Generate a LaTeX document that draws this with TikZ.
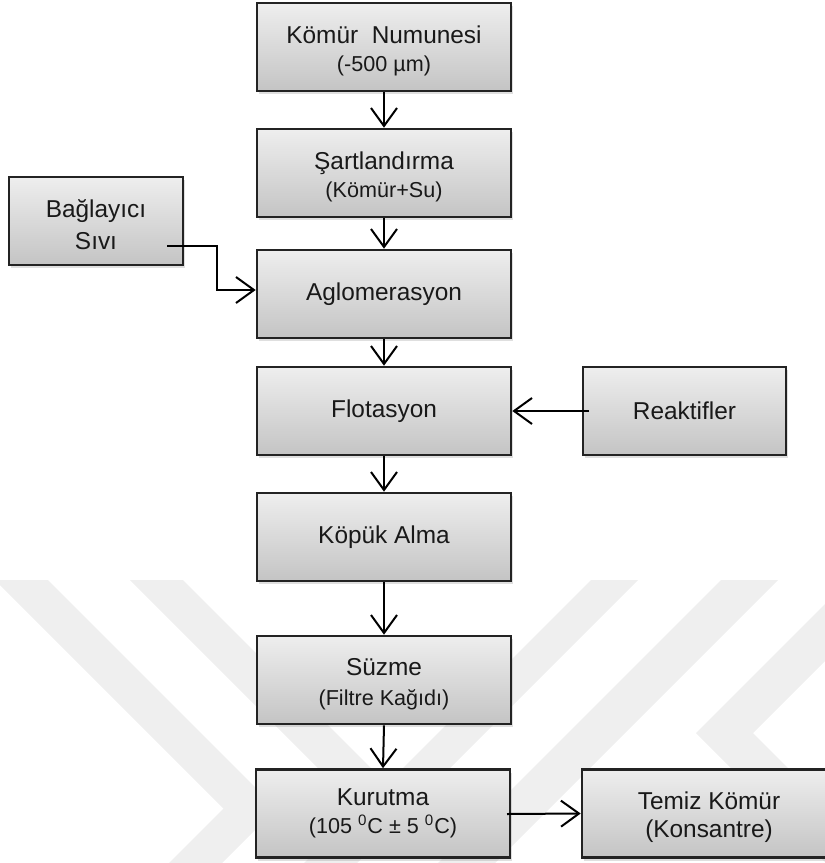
\documentclass[tikz,border=0pt]{standalone}
\usepackage{fontspec}
\setmainfont{Liberation Sans}
\usetikzlibrary{arrows.meta,shadows,calc}

\definecolor{boxtop}{RGB}{238,238,238}
\definecolor{boxbot}{RGB}{196,196,196}
\definecolor{wmark}{RGB}{239,239,239}
\definecolor{edge}{RGB}{35,35,35}
\definecolor{ink}{RGB}{25,25,25}
\newcommand{\mainsz}{\fontsize{12.2}{14}\selectfont}
\newcommand{\subsz}{\fontsize{10.8}{14}\selectfont}
% taller first line: pushes a two-line label slightly down in its box
\newcommand{\lowerstrut}{\rule{0pt}{13pt}}

\begin{document}
\begin{tikzpicture}[x=0.5pt,y=-0.5pt,
  procbox/.style={draw=edge, line width=1.3pt, top color=boxtop, bottom color=boxbot,
    minimum width=127pt, minimum height=44pt, inner sep=0pt, align=center,
    text=ink, font=\mainsz,
    drop shadow={opacity=0.25, shadow xshift=1.2pt, shadow yshift=-1.6pt}},
  flow/.style={draw=black, line width=1pt, -{Straight Barb[length=9pt,width=13pt]}},
]
\useasboundingbox (0,0) rectangle (825,863);

% faint background chevrons
\fill[wmark] (-5,580) -- (48,580) -- (276.5,808.5) -- (222,863) -- (169,863) -- (223.5,808.5) -- cycle;
\fill[wmark] (130,580) -- (183,580) -- (411.5,808.5) -- (357,863) -- (304,863) -- (358.5,808.5) -- cycle;
\fill[wmark] (591,580) -- (638,580) -- (355,863) -- (308,863) -- cycle;
\fill[wmark] (721,580) -- (778,580) -- (495,863) -- (438,863) -- cycle;
\fill[wmark] (849,580) -- (696,733) -- (826,863) -- (883,863) -- (753,733) -- (906,580) -- cycle;

% main process column
\node[procbox] (komur) at (384,47) {\lowerstrut Kömür~ Numunesi\\{\subsz(-500 µm)}};
\node[procbox] (sart)  at (384,173) {\lowerstrut Şartlandırma\\{\subsz(Kömür+Su)}};
\node[procbox] (aglo)  at (384,294) {Aglomerasyon};
\node[procbox] (flot)  at (384,411) {Flotasyon};
\node[procbox] (kopuk) at (384,537) {Köpük Alma};
\node[procbox] (suzme) at (384,680) {\lowerstrut Süzme\\[1pt]{\subsz(Filtre Kağıdı)}};
\node[procbox] (kurut) at (383,813.5) {Kurutma\\{\subsz(105 \textsuperscript{0}C ± 5 \textsuperscript{0}C)}};

% side inputs and product
\node[procbox, minimum width=87pt] (bag) at (96,221) {\lowerstrut Bağlayıcı\\[2pt]Sıvı};
\node[procbox, minimum width=101.5pt] (reak) at (684.5,411) {Reaktifler};
\node[procbox] (temiz) at (709,813.5) {\lowerstrut Temiz Kömür\\(Konsantre)};

% connectors
\draw[flow] (komur.south) -- (sart.north);
\draw[flow] (sart.south) -- (aglo.north);
\draw[flow] (aglo.south) -- (flot.north);
\draw[flow] (flot.south) -- (kopuk.north);
\draw[flow] (kopuk.south) -- (suzme.north);
\draw[flow] (suzme.south) -- (kurut.north);

\coordinate (bagout) at (167,246);
\draw[flow] (bagout) -- (217,246) |- ([yshift=2pt]aglo.west);

\coordinate (reakin) at (589,411);
\draw[flow] (reakin) -- (flot.east);

\coordinate (kurout) at (507,814);
\draw[flow] (kurout) -- (temiz.west);
\end{tikzpicture}
\end{document}
